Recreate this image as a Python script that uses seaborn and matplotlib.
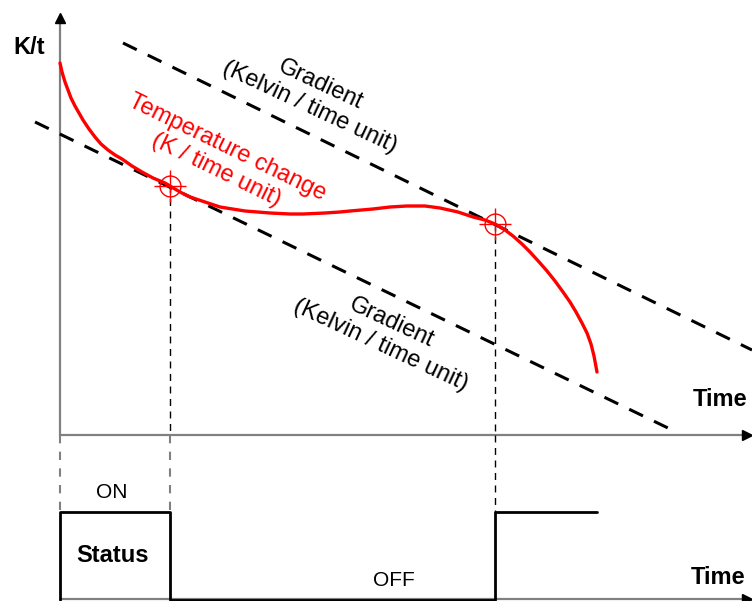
import numpy as np
import pandas as pd
import matplotlib
matplotlib.use("Agg")
import matplotlib.pyplot as plt
import seaborn as sns


# temperature change curve (time, K/t)
curve_t = [0, 2, 5, 8, 11, 15, 19, 23, 29, 35, 41, 48, 55, 62, 72, 82, 93,
           105, 110, 120, 130, 145, 160, 185, 210, 230, 243, 265, 280, 290,
           313, 330, 347, 365, 380, 398, 413, 425, 435, 445, 453, 462, 470,
           480, 487, 495, 503, 510, 516, 522, 527, 531, 534, 537]
curve_k = [372, 363, 353, 345, 337, 329, 322, 315, 306, 298, 291, 285, 280,
           276, 269, 263, 257, 252, 249, 243, 238, 233, 228, 224, 222, 221,
           221, 222, 223, 224, 226, 228, 229, 229, 227, 223, 218, 215, 211,
           205, 199, 191, 183, 172, 164, 154, 143, 133, 123, 112, 102, 91,
           79, 63]

# the two gradient lines (start / end)
grad_upper_t = [63, 692]
grad_upper_k = [392, 85]
grad_lower_t = [-25, 608]
grad_lower_k = [313, 7]

# switching points where curve meets a gradient
switch_t = [110, 435]
switch_k = [249, 211]

# status signal
status_t = [0, 0, 110, 435, 537]
status_on = [0, 1, 0, 1, 1]

ON_LEVEL = -77
OFF_LEVEL = -165

df = pd.DataFrame({"time": curve_t, "k": curve_k})

sns.set_style("white")
plt.rcParams['font.family'] = ['Liberation Sans', 'DejaVu Sans']
plt.rcParams['text.color'] = 'black'

fig = plt.figure(figsize=(7.52, 6.01), dpi=100)
ax = fig.add_axes([0, 0, 1, 1])
ax.set_xlim(-60, 692)
ax.set_ylim(-166, 435)
ax.axis('off')

gray = "#808080"

# axes of the diagram
ax.plot([0, 0], [0, 416], color=gray, lw=1.6)
ax.plot([0, 686], [0, 0], color=gray, lw=1.6)
ax.plot([0, 686], [-164, -164], color=gray, lw=1.6)
ax.plot([0], [417], marker='^', color='black', ms=7)
ax.plot([687], [0], marker='>', color='black', ms=7)
ax.plot([687], [-164], marker='>', color='black', ms=7)

# gradient lines
ax.plot(grad_upper_t, grad_upper_k, color='black', lw=2.2, linestyle=(0, (5, 4)))
ax.plot(grad_lower_t, grad_lower_k, color='black', lw=2.2, linestyle=(0, (5, 4)))

# temperature curve
sns.lineplot(data=df, x="time", y="k", color="red", lw=2.4, sort=False, ax=ax)

# switching markers + vertical guide lines
for t, k in zip(switch_t, switch_k):
    ax.plot([t, t], [k, 0], color='black', lw=1.0, linestyle=(0, (5, 4)))
ax.plot([switch_t[1], switch_t[1]], [0, ON_LEVEL], color='black', lw=1.0,
        linestyle=(0, (5, 4)))
ax.plot([switch_t[0], switch_t[0]], [0, ON_LEVEL], color=gray, lw=1.5,
        linestyle=(0, (4, 4)))
ax.plot([0, 0], [0, ON_LEVEL], color=gray, lw=1.5, linestyle=(0, (4, 4)))

ax.plot(switch_t, switch_k, linestyle='none', marker='o', ms=15,
        mfc='none', mec='red', mew=1.0)
ax.plot(switch_t, switch_k, linestyle='none', marker='+', ms=23,
        mec='red', mew=1.0)

# status step line
status_y = [ON_LEVEL if s else OFF_LEVEL for s in status_on]
ax.plot(status_t, status_y, color='black', lw=2.0, drawstyle='steps-post')

# labels
ax.text(-31, 388, "K/t", fontsize=17, fontweight='bold', ha='center', va='center')
ax.text(633, 35, "Time", fontsize=17, fontweight='bold', ha='left', va='center')
ax.text(631, -143, "Time", fontsize=17, fontweight='bold', ha='left', va='center')
ax.text(52, -57, "ON", fontsize=15, ha='center', va='center')
ax.text(53, -120, "Status", fontsize=17, fontweight='bold', ha='center', va='center')
ax.text(334, -145, "OFF", fontsize=15, ha='center', va='center')

ax.text(255, 339, "Gradient\n(Kelvin / time unit)", fontsize=17, rotation=-25,
        ha='center', va='center', multialignment='center')
ax.text(326, 101, "Gradient\n(Kelvin / time unit)", fontsize=17, rotation=-25,
        ha='center', va='center', multialignment='center')
ax.text(162, 276, "Temperature change\n(K / time unit)", fontsize=17, rotation=-26,
        color='red', ha='center', va='center', multialignment='center')

fig.savefig("out.png", dpi=100)
